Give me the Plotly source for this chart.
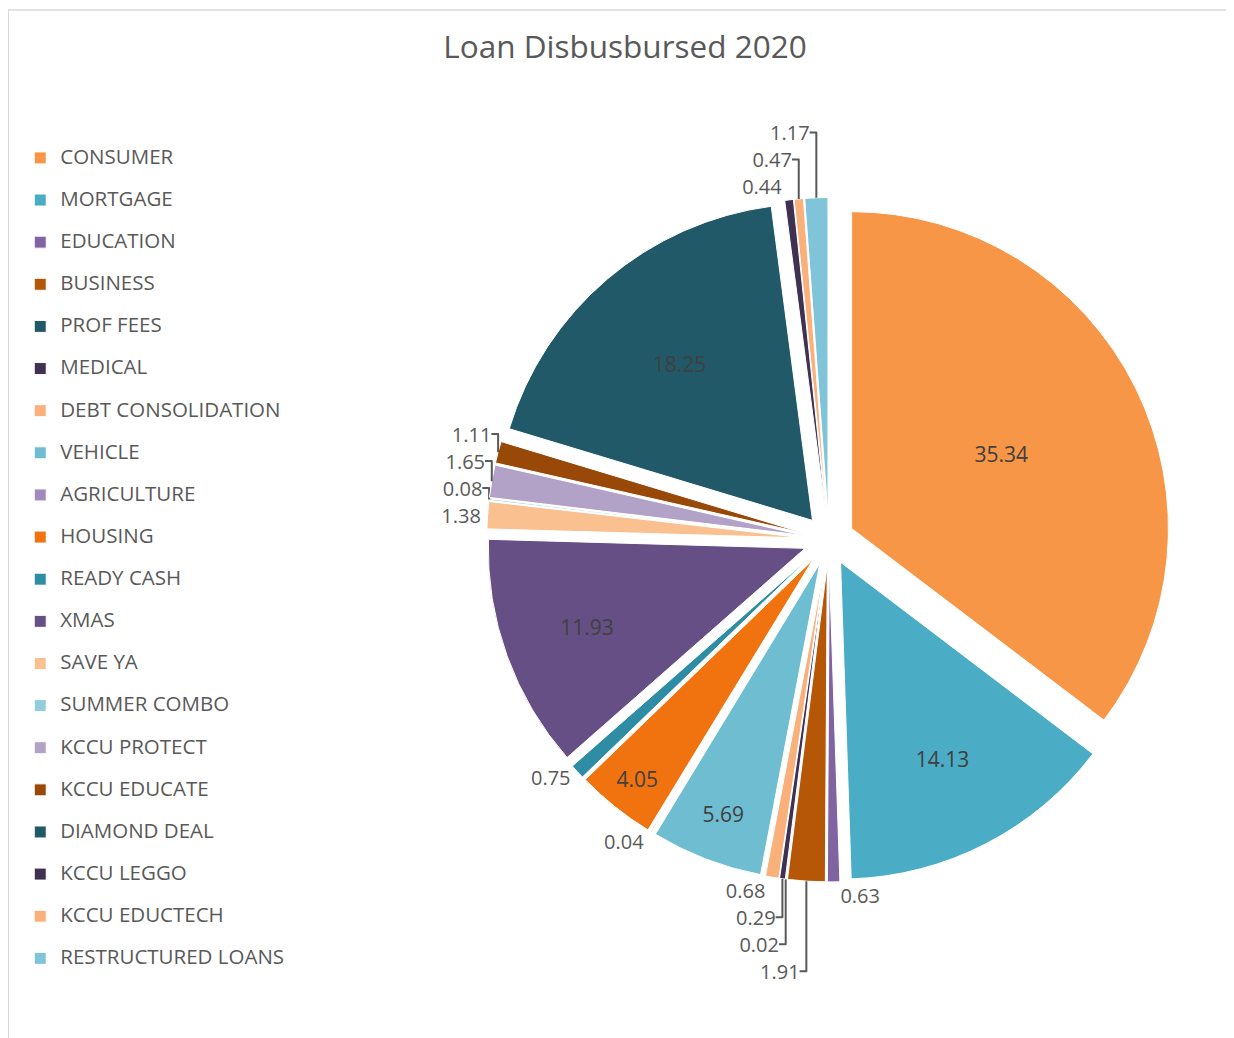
import plotly.graph_objects as go

categories = [
    "CONSUMER", "MORTGAGE", "EDUCATION", "BUSINESS", "PROF FEES", "MEDICAL",
    "DEBT CONSOLIDATION", "VEHICLE", "AGRICULTURE", "HOUSING", "READY CASH",
    "XMAS", "SAVE YA", "SUMMER COMBO", "KCCU PROTECT", "KCCU EDUCATE",
    "DIAMOND DEAL", "KCCU LEGGO", "KCCU EDUCTECH", "RESTRUCTURED LOANS",
]
values = [
    35.34, 14.13, 0.63, 1.91, 0.02, 0.29,
    0.68, 5.69, 0.04, 4.05, 0.75,
    11.93, 1.38, 0.08, 1.65, 1.11,
    18.25, 0.44, 0.47, 1.17,
]
colors = [
    "#F79646", "#4BACC6", "#8064A2", "#B65708", "#215968", "#3F3151",
    "#FAB07A", "#6FBDD1", "#A18BBE", "#F0730F", "#2E8CA5",
    "#664F84", "#FAC090", "#93CDDD", "#B3A2C7", "#984807",
    "#215968", "#3F3151", "#FAB07A", "#7FC4D8",
]

# legend rows: bigger visible text, blank second line keeps rows tall
legend_labels = ["<span style='font-size:20.5px'>" + c + "</span><br> " for c in categories]
positions = ["inside" if v > 3 else "outside" for v in values]

fig = go.Figure()
fig.add_trace(go.Pie(
    labels=legend_labels,
    values=values,
    sort=False,
    direction="clockwise",
    rotation=0,
    pull=0.08,
    marker=dict(colors=colors, line=dict(color="white", width=1)),
    textinfo="value",
    texttemplate="%{value:.2f}",
    textposition=positions,
    insidetextorientation="horizontal",
    insidetextfont=dict(color="#404040", size=21),
    outsidetextfont=dict(color="#595959", size=20),
    domain=dict(x=[0.379, 0.957], y=[0.152, 0.896]),
    hoverinfo="value",
))

fig.update_layout(
    width=1234,
    height=1038,
    title=dict(
        text="Loan Disbusbursed 2020",
        x=0.5, xanchor="center", y=0.962, yanchor="middle",
        font=dict(size=31.5, color="#595959"),
    ),
    font=dict(family="Open Sans, Lato, sans-serif", color="#595959"),
    legend=dict(
        x=-0.015, xanchor="left", y=0.953, yanchor="top",
        valign="top",
        font=dict(size=15.05, color="#595959"),
        itemwidth=30,
        maxheight=1.0,
    ),
    margin=dict(l=20, r=20, t=90, b=20),
    paper_bgcolor="white",
    plot_bgcolor="white",
    shapes=[dict(
        type="rect", xref="paper", yref="paper",
        x0=-30 / 1194, x1=1.03, y0=-0.05, y1=1 + 88 / 928,
        line=dict(color="#D9D9D9", width=1.5),
    )],
)

fig.write_html("out.html")
